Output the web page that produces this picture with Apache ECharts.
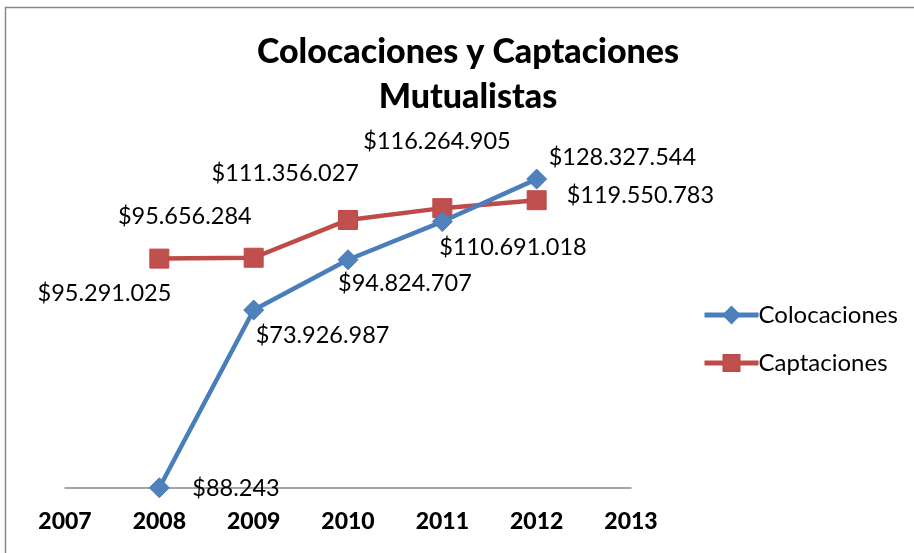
<!DOCTYPE html>
<html>
<head>
<meta charset="utf-8">
<script src="https://cdn.jsdelivr.net/npm/echarts@6/dist/echarts.min.js"></script>
<style>
  html, body { margin: 0; padding: 0; background: #ffffff; }
  #chart { width: 914px; height: 553px; }
</style>
</head>
<body>
<div id="chart"></div>
<script>
// Years on the category axis
const years = ['2007', '2008', '2009', '2010', '2011', '2012', '2013'];
// Colocaciones (loans) per year; null where there is no value
const colocaciones = [null, 88243, 73926987, 94824707, 110691018, 128327544, null];
// Captaciones (deposits) per year
const captaciones = [null, 95291025, 95656284, 111356027, 116264905, 119550783, null];

// Label placement per point: [align, dx, dy]
const colocLabelPlace = [null, ['left', 33, 1], ['left', 2, 25], ['left', -10, 24], ['left', -3, 26], ['left', 12, -22], null];
const captLabelPlace = [null, ['right', 12, 35], ['right', -2, -41], ['right', 11, -47], ['left', -79, -67], ['left', 30, -5], null];

const FONT = 'Lato, "Noto Sans", sans-serif';

function money(v) {
  return '$' + String(v).replace(/\B(?=(\d{3})+(?!\d))/g, '.');
}

function buildData(values, places) {
  return values.map((v, i) => {
    if (v === null) return null;
    const p = places[i];
    return {
      value: v,
      label: {
        show: true,
        position: 'inside',
        align: p[0],
        verticalAlign: 'middle',
        offset: [p[1], p[2]],
        formatter: () => money(v)
      }
    };
  });
}

const chart = echarts.init(document.getElementById('chart'));
chart.setOption({
  animation: false,
  backgroundColor: '#ffffff',
  textStyle: { fontFamily: FONT },
  title: {
    text: 'Colocaciones y Captaciones\nMutualistas',
    left: 463,
    textAlign: 'center',
    top: 25,
    textStyle: { fontFamily: FONT, fontSize: 34, fontWeight: 900, color: '#000', lineHeight: 45 }
  },
  legend: {
    orient: 'vertical',
    left: 697,
    top: 298,
    itemWidth: 54,
    itemHeight: 20,
    itemGap: 24,
    textStyle: { fontFamily: FONT, fontSize: 24, color: '#000', padding: [0, 0, 0, -5] },
    lineStyle: { width: 5 },
    data: ['Colocaciones', 'Captaciones']
  },
  grid: { left: 65, right: 283, top: 151, bottom: 65, containLabel: false },
  xAxis: {
    type: 'category',
    data: years,
    boundaryGap: false,
    axisLine: { show: true, lineStyle: { color: '#868686', width: 1.5 } },
    axisTick: { show: false },
    axisLabel: { margin: 22, fontFamily: FONT, fontSize: 23, fontWeight: 900, color: '#000' },
    splitLine: { show: false }
  },
  yAxis: {
    type: 'value',
    min: 0,
    max: 140000000,
    show: false,
    splitLine: { show: false }
  },
  series: [
    {
      name: 'Colocaciones',
      type: 'line',
      data: buildData(colocaciones, colocLabelPlace),
      symbol: 'diamond',
      symbolSize: 20,
      connectNulls: false,
      lineStyle: { color: '#4A7EBB', width: 4.5 },
      itemStyle: { color: '#4F81BD', borderColor: '#4A7EBB', borderWidth: 1 },
      label: { fontFamily: FONT, fontSize: 23.5, color: '#000' },
      z: 3
    },
    {
      name: 'Captaciones',
      type: 'line',
      data: buildData(captaciones, captLabelPlace),
      symbol: 'rect',
      symbolSize: 19,
      connectNulls: false,
      lineStyle: { color: '#BE4B48', width: 4.5 },
      itemStyle: { color: '#C0504D', borderColor: '#BE4B48', borderWidth: 1 },
      label: { fontFamily: FONT, fontSize: 23.5, color: '#000' },
      z: 2
    }
  ],
  graphic: [
    {
      type: 'rect',
      shape: { x: 5.5, y: 7.5, width: 920, height: 560 },
      style: { fill: 'none', stroke: '#868686', lineWidth: 1.5 },
      silent: true
    }
  ]
});
</script>
</body>
</html>
